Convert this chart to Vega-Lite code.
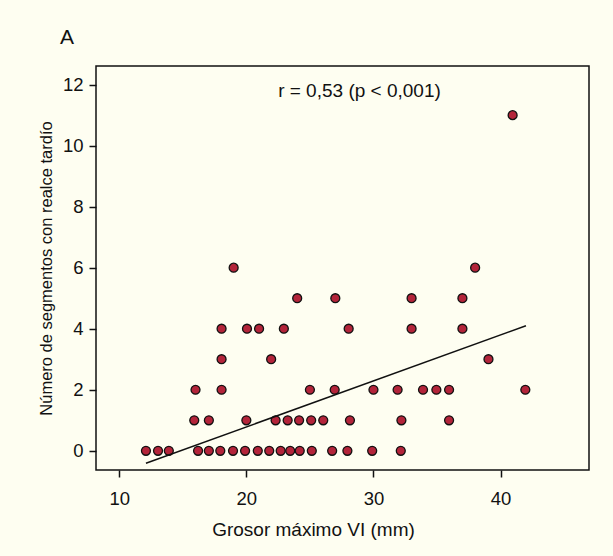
{
  "$schema": "https://vega.github.io/schema/vega-lite/v6.json",
  "autosize": "none",
  "width": 493,
  "height": 404,
  "padding": {"left": 96, "top": 66, "right": 24, "bottom": 86},
  "background": "#FEFEF1",
  "title": {
    "text": "A",
    "anchor": "start",
    "frame": "group",
    "dx": -36,
    "offset": 18,
    "font": "Liberation Sans",
    "fontSize": 21,
    "fontWeight": "normal",
    "color": "#111111"
  },
  "config": {
    "view": {"stroke": "#111111", "strokeWidth": 1.5, "fill": "#FEFEF1"},
    "font": "Liberation Sans",
    "axis": {
      "labelFont": "Liberation Sans",
      "titleFont": "Liberation Sans",
      "labelFontSize": 18.5,
      "titleFontWeight": "normal",
      "labelColor": "#111111",
      "titleColor": "#111111",
      "tickColor": "#111111",
      "tickWidth": 1.5,
      "tickSize": 7,
      "domain": false,
      "grid": false
    }
  },
  "layer": [
    {
      "data": {"values": [
        {"grosor": 12.1, "segmentos": 0}, {"grosor": 13.05, "segmentos": 0}, {"grosor": 13.9, "segmentos": 0},
        {"grosor": 16.2, "segmentos": 0}, {"grosor": 17.05, "segmentos": 0}, {"grosor": 17.95, "segmentos": 0},
        {"grosor": 18.95, "segmentos": 0}, {"grosor": 19.9, "segmentos": 0}, {"grosor": 20.9, "segmentos": 0},
        {"grosor": 21.8, "segmentos": 0}, {"grosor": 22.7, "segmentos": 0}, {"grosor": 23.45, "segmentos": 0},
        {"grosor": 24.2, "segmentos": 0}, {"grosor": 25.15, "segmentos": 0}, {"grosor": 26.75, "segmentos": 0},
        {"grosor": 27.95, "segmentos": 0}, {"grosor": 29.9, "segmentos": 0}, {"grosor": 32.15, "segmentos": 0},
        {"grosor": 15.9, "segmentos": 1}, {"grosor": 17.05, "segmentos": 1}, {"grosor": 20.0, "segmentos": 1},
        {"grosor": 22.3, "segmentos": 1}, {"grosor": 23.25, "segmentos": 1}, {"grosor": 24.15, "segmentos": 1},
        {"grosor": 25.1, "segmentos": 1}, {"grosor": 26.05, "segmentos": 1}, {"grosor": 28.15, "segmentos": 1},
        {"grosor": 32.2, "segmentos": 1}, {"grosor": 35.95, "segmentos": 1},
        {"grosor": 16.0, "segmentos": 2}, {"grosor": 18.05, "segmentos": 2}, {"grosor": 25.0, "segmentos": 2},
        {"grosor": 26.95, "segmentos": 2}, {"grosor": 30.0, "segmentos": 2}, {"grosor": 31.9, "segmentos": 2},
        {"grosor": 33.9, "segmentos": 2}, {"grosor": 34.95, "segmentos": 2}, {"grosor": 35.95, "segmentos": 2},
        {"grosor": 41.95, "segmentos": 2},
        {"grosor": 18.05, "segmentos": 3}, {"grosor": 21.95, "segmentos": 3}, {"grosor": 39.05, "segmentos": 3},
        {"grosor": 18.05, "segmentos": 4}, {"grosor": 20.05, "segmentos": 4}, {"grosor": 21.0, "segmentos": 4},
        {"grosor": 22.95, "segmentos": 4}, {"grosor": 28.05, "segmentos": 4}, {"grosor": 33.0, "segmentos": 4},
        {"grosor": 37.0, "segmentos": 4},
        {"grosor": 24.0, "segmentos": 5}, {"grosor": 27.0, "segmentos": 5}, {"grosor": 33.0, "segmentos": 5},
        {"grosor": 37.0, "segmentos": 5},
        {"grosor": 19.0, "segmentos": 6}, {"grosor": 38.0, "segmentos": 6},
        {"grosor": 40.95, "segmentos": 11}
      ]},
      "mark": {"type": "point", "shape": "circle", "filled": true, "size": 80, "fill": "#B3243A", "stroke": "#111111", "strokeWidth": 1.3, "opacity": 1},
      "encoding": {
        "x": {"field": "grosor", "type": "quantitative", "scale": {"domain": [8.17, 46.96], "nice": false, "zero": false},
              "axis": {"values": [10, 20, 30, 40], "title": "Grosor máximo VI (mm)", "titleFontSize": 19, "labelPadding": 12, "titlePadding": 13, "titleX": 217}},
        "y": {"field": "segmentos", "type": "quantitative", "scale": {"domain": [-0.63, 12.61], "nice": false, "zero": false},
              "axis": {"values": [0, 2, 4, 6, 8, 10, 12], "title": "Número de segmentos con realce tardío", "titleFontSize": 16.5, "labelPadding": 6, "titlePadding": 8}}
      }
    },
    {
      "data": {"values": [{"grosor": 12.1, "segmentos": -0.41}, {"grosor": 42.0, "segmentos": 4.1}]},
      "mark": {"type": "line", "color": "#111111", "strokeWidth": 1.5},
      "encoding": {
        "x": {"field": "grosor", "type": "quantitative"},
        "y": {"field": "segmentos", "type": "quantitative"}
      }
    },
    {
      "data": {"values": [{"grosor": 28.9, "segmentos": 11.8, "label": "r = 0,53 (p < 0,001)"}]},
      "mark": {"type": "text", "font": "Liberation Sans", "fontSize": 19, "color": "#111111", "align": "center", "baseline": "middle"},
      "encoding": {
        "x": {"field": "grosor", "type": "quantitative"},
        "y": {"field": "segmentos", "type": "quantitative"},
        "text": {"field": "label"}
      }
    }
  ]
}
